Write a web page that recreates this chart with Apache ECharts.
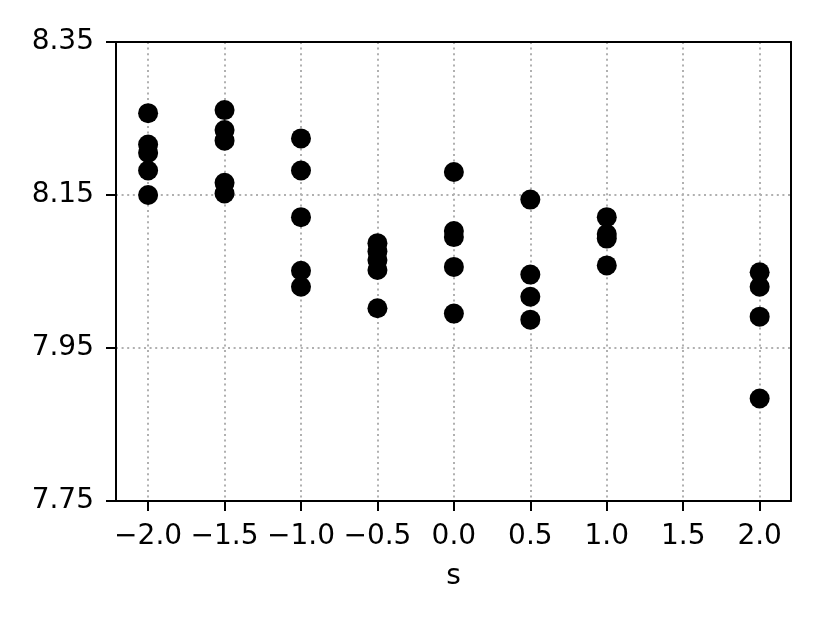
<!DOCTYPE html>
<html><head><meta charset="utf-8">
<script src="https://cdn.jsdelivr.net/npm/echarts@6/dist/echarts.min.js"></script>
<style>html,body{margin:0;padding:0;background:#fff}#c{width:830px;height:623px}</style>
</head><body><div id="c"></div>
<script>
const sValues = [-2.0, -1.5, -1.0, -0.5, 0.0, 0.5, 1.0, 2.0];
const yAtM20 = [8.257, 8.216, 8.205, 8.182, 8.150];
const yAtM15 = [8.261, 8.235, 8.221, 8.166, 8.152];
const yAtM10 = [8.224, 8.182, 8.121, 8.051, 8.030];
const yAtM05 = [8.087, 8.076, 8.065, 8.052, 8.002];
const yAt00 = [8.180, 8.103, 8.095, 8.056, 7.995];
const yAt05 = [8.144, 8.046, 8.017, 7.987];
const yAt10 = [8.121, 8.099, 8.093, 8.058];
const yAt20 = [8.049, 8.030, 7.991, 7.884];
const groups = [yAtM20, yAtM15, yAtM10, yAtM05, yAt00, yAt05, yAt10, yAt20];
const xTicks = [-2.0, -1.5, -1.0, -0.5, 0.0, 0.5, 1.0, 1.5, 2.0];
const yTicks = [7.75, 7.95, 8.15, 8.35];

const pts = [];
groups.forEach((g, i) => g.forEach(v => pts.push([sValues[i], v])));

const font = 'DejaVu Sans';
const chart = echarts.init(document.getElementById('c'), null, {renderer: 'canvas'});
const gridLine = {show: true, lineStyle: {color: '#b0b0b0', width: 2, type: [2, 3.6]}};
const frameAxis = {show: true, onZero: false, lineStyle: {color: '#000', width: 2}};
chart.setOption({
  animation: false,
  grid: {left: 116, right: 39, top: 42, bottom: 122},
  xAxis: [{
    type: 'value', min: -2.21, max: 2.205,
    name: 's', nameLocation: 'middle', nameGap: 62,
    nameTextStyle: {fontFamily: font, fontSize: 28, color: '#000'},
    axisLine: frameAxis,
    axisTick: {show: true, length: 10, lineStyle: {color: '#000', width: 2}, customValues: xTicks},
    axisLabel: {fontFamily: font, fontSize: 28, color: '#000', margin: 22, customValues: xTicks,
      formatter: v => (v < 0 ? '\u2212' : '') + Math.abs(v).toFixed(1)},
    splitLine: gridLine, z: 1
  }, {
    type: 'value', position: 'top', min: -2.21, max: 2.205,
    axisLine: frameAxis, axisTick: {show: false}, axisLabel: {show: false}, splitLine: {show: false}, z: 5
  }],
  yAxis: [{
    type: 'value', min: 7.75, max: 8.35,
    axisLine: frameAxis,
    axisTick: {show: true, length: 10, lineStyle: {color: '#000', width: 2}, customValues: yTicks},
    axisLabel: {fontFamily: font, fontSize: 28, color: '#000', margin: 22, customValues: yTicks,
      formatter: v => v.toFixed(2)},
    splitLine: gridLine, z: 1
  }, {
    type: 'value', position: 'right', min: 7.75, max: 8.35,
    axisLine: frameAxis, axisTick: {show: false}, axisLabel: {show: false}, splitLine: {show: false}, z: 5
  }],
  series: [{
    type: 'scatter', data: pts, symbolSize: 20,
    itemStyle: {color: '#000', opacity: 1}
  }]
});
</script></body></html>
